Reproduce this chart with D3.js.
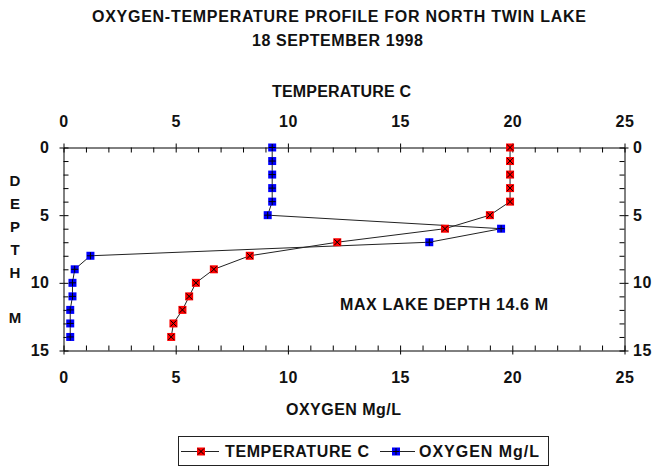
<!DOCTYPE html>
<html>
<head>
<meta charset="utf-8">
<script src="https://cdn.jsdelivr.net/npm/d3@7"></script>
<style>
  html, body { margin: 0; padding: 0; background: #fff; }
  svg { display: block; }
  text { font-family: "Liberation Sans", Arial, sans-serif; font-weight: bold; fill: #111; }
</style>
</head>
<body>
<script>
// Sampling depths (m) and the two profiles measured at each depth
const depths = [0, 1, 2, 3, 4, 5, 6, 7, 8, 9, 10, 11, 12, 13, 14];
const temperature = [19.9, 19.9, 19.9, 19.9, 19.9, 19.0, 17.0, 12.2, 8.3, 6.7, 5.9, 5.6, 5.3, 4.9, 4.8];
const oxygen = [9.3, 9.3, 9.3, 9.3, 9.3, 9.1, 19.5, 16.3, 1.2, 0.5, 0.4, 0.4, 0.3, 0.3, 0.3];

// Tick labels
const valueTicks = [0, 5, 10, 15, 20, 25];
const depthTicks = [0, 5, 10, 15];

const titleLines = ["OXYGEN-TEMPERATURE PROFILE FOR NORTH TWIN LAKE", "18 SEPTEMBER 1998"];
const topAxisTitle = "TEMPERATURE C";
const bottomAxisTitle = "OXYGEN Mg/L";
const depthTitle = ["D", "E", "P", "T", "H", "", "M"];
const note = "MAX LAKE DEPTH 14.6 M";

const W = 659, H = 470;
const svg = d3.select("body").append("svg").attr("width", W).attr("height", H);

const x = d3.scaleLinear().domain([0, 25]).range([63.5, 624.5]);
const y = d3.scaleLinear().domain([0, 15]).range([147.5, 350.5]);

const FS = 16;

// Titles (stretched slightly to the wide letter spacing of the original typeface)
const titleLayout = [{ cx: 339, y: 22, len: 494 }, { cx: 337.5, y: 45.5, len: 171 }];
svg.selectAll("text.title").data(titleLines).join("text")
  .attr("class", "title")
  .attr("x", (d, i) => titleLayout[i].cx - titleLayout[i].len / 2)
  .attr("y", (d, i) => titleLayout[i].y)
  .attr("textLength", (d, i) => titleLayout[i].len).attr("lengthAdjust", "spacing")
  .attr("font-size", FS)
  .text(d => d);

svg.append("text").attr("x", 272).attr("y", 96.5)
  .attr("textLength", 139).attr("lengthAdjust", "spacing")
  .attr("font-size", FS).text(topAxisTitle);
svg.append("text").attr("x", 286).attr("y", 415)
  .attr("textLength", 115).attr("lengthAdjust", "spacing")
  .attr("font-size", FS).text(bottomAxisTitle);

// Vertical "DEPTH M" caption
svg.selectAll("text.depthTitle").data(depthTitle).join("text")
  .attr("class", "depthTitle")
  .attr("x", 15).attr("y", (d, i) => 181 + i * 22.8)
  .attr("dy", "0.36em")
  .attr("text-anchor", "middle").attr("font-size", FS - 1)
  .text(d => d);

// Axes: labelled major ticks crossing the frame, unlabelled minor ticks pointing inward
function styleAxis(g) {
  g.attr("font-family", null).attr("font-size", null);
  g.selectAll("path.domain").attr("stroke", "#000").attr("stroke-width", 1);
  g.selectAll(".tick line").attr("stroke", "#000").attr("stroke-width", 1);
  g.selectAll(".tick text").attr("font-size", FS).attr("fill", "#111").attr("letter-spacing", 0.5);
}
function minor(g) {
  g.attr("font-family", null).attr("font-size", null);
  g.select("path.domain").remove();
  g.selectAll(".tick line").attr("stroke", "#000").attr("stroke-width", 1);
}

svg.append("g").attr("transform", `translate(0,${y(0)})`)
  .call(d3.axisTop(x).tickValues(d3.range(0, 26)).tickSize(-5).tickFormat("")).call(minor);
svg.append("g").attr("transform", `translate(0,${y(15)})`)
  .call(d3.axisBottom(x).tickValues(d3.range(0, 26)).tickSize(-5).tickFormat("")).call(minor);
svg.append("g").attr("transform", `translate(${x(0)},0)`)
  .call(d3.axisLeft(y).tickValues(d3.range(0, 16)).tickSize(-5).tickFormat("")).call(minor);
svg.append("g").attr("transform", `translate(${x(25)},0)`)
  .call(d3.axisRight(y).tickValues(d3.range(0, 16)).tickSize(-5).tickFormat("")).call(minor);

svg.append("g").attr("transform", `translate(0,${y(0)})`)
  .call(d3.axisTop(x).tickValues(valueTicks).tickSize(4).tickSizeOuter(0).tickPadding(16.5)).call(styleAxis);
svg.append("g").attr("transform", `translate(0,${y(15)})`)
  .call(d3.axisBottom(x).tickValues(valueTicks).tickSize(4).tickSizeOuter(0).tickPadding(17)).call(styleAxis);
svg.append("g").attr("transform", `translate(${x(0)},0)`)
  .call(d3.axisLeft(y).tickValues(depthTicks).tickSize(4).tickSizeOuter(0).tickPadding(10)).call(styleAxis);
svg.append("g").attr("transform", `translate(${x(25)},0)`)
  .call(d3.axisRight(y).tickValues(depthTicks).tickSize(4).tickSizeOuter(0).tickPadding(4.5)).call(styleAxis);

// Profile lines
const tempPts = depths.map((d, i) => ({ depth: d, v: temperature[i] }));
const oxyPts = depths.map((d, i) => ({ depth: d, v: oxygen[i] }));
const line = d3.line().x(d => x(d.v)).y(d => y(d.depth));

[tempPts, oxyPts].forEach(pts => {
  svg.append("path").datum(pts).attr("d", line)
    .attr("fill", "none").attr("stroke", "#222").attr("stroke-width", 1);
});

// Markers
const crossGlyph = "M-3,-3L3,3M-3,3L3,-3";
const plusGlyph = "M-3.5,0L3.5,0M0,-3.5L0,3.5";
function drawMarker(sel, fill, glyph) {
  sel.append("rect").attr("x", -4).attr("y", -4).attr("width", 8).attr("height", 8)
    .attr("fill", fill);
  sel.append("path").attr("d", glyph).attr("stroke", "#000").attr("stroke-width", 1).attr("fill", "none");
}
svg.append("g").selectAll("g").data(tempPts).join("g")
  .attr("transform", d => `translate(${x(d.v)},${y(d.depth)})`)
  .each(function () { drawMarker(d3.select(this), "#ff0000", crossGlyph); });
svg.append("g").selectAll("g").data(oxyPts).join("g")
  .attr("transform", d => `translate(${x(d.v)},${y(d.depth)})`)
  .each(function () { drawMarker(d3.select(this), "#0000ff", plusGlyph); });

// Annotation
svg.append("text").attr("x", 340).attr("y", 310)
  .attr("textLength", 208).attr("lengthAdjust", "spacing")
  .attr("font-size", FS).text(note);

// Legend
const legendItems = [
  { name: "TEMPERATURE C", fill: "#ff0000", glyph: crossGlyph, x0: 181, x1: 219, mx: 201, tx: 225, len: 144 },
  { name: "OXYGEN Mg/L", fill: "#0000ff", glyph: plusGlyph, x0: 380, x1: 415, mx: 396, tx: 419, len: 120 }
];
svg.append("rect").attr("x", 178.5).attr("y", 436.5).attr("width", 370).attr("height", 29)
  .attr("fill", "#fff").attr("stroke", "#222").attr("stroke-width", 1);
const lg = svg.append("g").selectAll("g").data(legendItems).join("g");
lg.append("line").attr("x1", d => d.x0).attr("x2", d => d.x1).attr("y1", 451.5).attr("y2", 451.5)
  .attr("stroke", "#222").attr("stroke-width", 1);
lg.append("g").attr("transform", d => `translate(${d.mx},451.5)`)
  .each(function (d) { drawMarker(d3.select(this), d.fill, d.glyph); });
lg.append("text").attr("x", d => d.tx).attr("y", 457)
  .attr("textLength", d => d.len).attr("lengthAdjust", "spacing")
  .attr("font-size", FS).text(d => d.name);
</script>
</body>
</html>
